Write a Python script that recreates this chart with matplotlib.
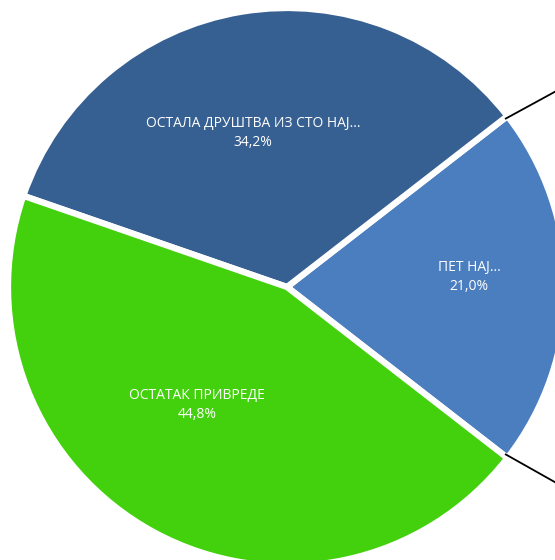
import matplotlib
matplotlib.use("Agg")
import matplotlib.pyplot as plt

# slice data, counter-clockwise from the lower edge of the small slice
labels = ["ПЕТ НАЈ...", "ОСТАЛА ДРУШТВА ИЗ СТО НАЈ...", "ОСТАТАК ПРИВРЕДЕ"]
shares = [21.0, 34.2, 44.8]
colors = ["#4A7EBF", "#376092", "#43D10E"]

W, H = 555, 560
R = 279.0
cx, cy = 287, 287

fig = plt.figure(figsize=(W / 100, H / 100), dpi=100)
ax = fig.add_axes([0, 0, 1, 1])

start = -shares[0] / 100 * 360 / 2
wedges, _ = ax.pie(
    shares,
    colors=colors,
    startangle=start,
    counterclock=True,
    radius=1.0,
    wedgeprops=dict(edgecolor="white", linewidth=4.5),
)


def to_data(px, py):
    return (px - cx) / R, (cy - py) / R


# label positions (pixel coords of the first line centre)
label_px = [(469, 268), (253, 123), (197, 395)]
for lab, val, (px, py) in zip(labels, shares, label_px):
    pct = f"{val:.1f}%".replace(".", ",")
    for i, s in enumerate([lab, pct]):
        x, y = to_data(px, py + 19 * i)
        ax.text(x, y, s, ha="center", va="center", color="white",
                fontsize=10, family="Open Sans")

# connector lines towards the secondary pie
for p0, p1 in [((505, 119), (560, 89)), ((505, 454), (560, 485))]:
    (x0, y0), (x1, y1) = to_data(*p0), to_data(*p1)
    ax.plot([x0, x1], [y0, y1], color="black", linewidth=1.3,
            solid_capstyle="butt")

ax.set_xlim(-cx / R, (W - cx) / R)
ax.set_ylim(-(H - cy) / R, cy / R)
ax.set_aspect("equal")
ax.axis("off")

fig.savefig("out.png", dpi=100)
